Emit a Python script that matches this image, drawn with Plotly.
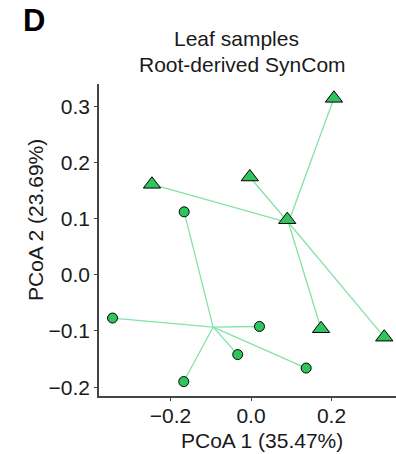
import plotly.graph_objects as go

# PCoA coordinates of leaf samples (two groups) and their group centroids
circle_x = [-0.166, -0.344, -0.167, 0.021, -0.033, 0.137]
circle_y = [0.112, -0.077, -0.190, -0.092, -0.142, -0.166]
circle_centroid = (-0.094, -0.093)

tri_x = [0.206, -0.003, -0.246, 0.090, 0.174, 0.331]
tri_y = [0.314, 0.174, 0.161, 0.098, -0.096, -0.111]
tri_centroid = (0.093, 0.093)

x_ticks = [-0.2, 0.0, 0.2]
y_ticks = [-0.2, -0.1, 0.0, 0.1, 0.2, 0.3]

title_lines = ["Leaf samples", "Root-derived SynCom"]
x_title = "PCoA 1 (35.47%)"
y_title = "PCoA 2 (23.69%)"
panel_label = "D"

FILL = "#2fc45e"
SPIDER = "#84e3a4"
FONT = "Liberation Sans, Arial, sans-serif"

W, H = 396, 454
L, R, T, B = 99, 0, 84, 58


def spider(cx, cy, xs, ys):
    sx, sy = [], []
    for x, y in zip(xs, ys):
        sx += [cx, x, None]
        sy += [cy, y, None]
    return sx, sy


fig = go.Figure()

for (cx, cy), xs, ys in [(circle_centroid, circle_x, circle_y),
                         (tri_centroid, tri_x, tri_y)]:
    sx, sy = spider(cx, cy, xs, ys)
    fig.add_trace(go.Scatter(x=sx, y=sy, mode="lines",
                             line=dict(color=SPIDER, width=1.3),
                             hoverinfo="skip", showlegend=False))

fig.add_trace(go.Scatter(x=circle_x, y=circle_y, mode="markers",
                         marker=dict(symbol="circle", size=10, color=FILL,
                                     line=dict(color="black", width=1)),
                         showlegend=False))
fig.add_trace(go.Scatter(x=tri_x, y=tri_y, mode="markers",
                         marker=dict(symbol="triangle-up", size=15, color=FILL,
                                     line=dict(color="black", width=1)),
                         showlegend=False))

axis_common = dict(showgrid=False, zeroline=False, showline=True,
                   linecolor="#444444", linewidth=1.5,
                   ticks="outside", ticklen=3, tickwidth=1, tickcolor="#444444",
                   tickfont=dict(family=FONT, size=21, color="#1a1a1a"))

fig.update_xaxes(range=[-0.3776, 0.3602], tickvals=x_ticks,
                 tickformat=".1f", ticklabelstandoff=-3, **axis_common)
fig.update_yaxes(range=[-0.2157, 0.3395], tickvals=y_ticks,
                 tickformat=".1f", **axis_common)


def px_to_paper(px, py):
    return (px - L) / (W - L - R), (H - B - py) / (H - T - B)


annotations = []
for text, cx, cy in [(title_lines[0], 236.7, 38.0),
                     (title_lines[1], 242.0, 64.5),
                     (x_title, 262.0, 440.5)]:
    ax, ay = px_to_paper(cx, cy)
    annotations.append(dict(text=text, x=ax, y=ay, xref="paper", yref="paper",
                            xanchor="center", yanchor="middle", showarrow=False,
                            font=dict(family=FONT, size=21, color="#1a1a1a")))

ax, ay = px_to_paper(35.0, 220.0)
annotations.append(dict(text=y_title, x=ax, y=ay, xref="paper", yref="paper",
                        xanchor="center", yanchor="middle", showarrow=False,
                        textangle=-90,
                        font=dict(family=FONT, size=21, color="#1a1a1a")))

ax, ay = px_to_paper(34.0, 20.0)
annotations.append(dict(text="<b>%s</b>" % panel_label, x=ax, y=ay,
                        xref="paper", yref="paper",
                        xanchor="center", yanchor="middle", showarrow=False,
                        font=dict(family=FONT, size=31, color="black")))

fig.update_layout(width=W, height=H,
                  margin=dict(l=L, r=R, t=T, b=B, pad=0),
                  paper_bgcolor="white", plot_bgcolor="white",
                  annotations=annotations, showlegend=False)

fig.write_html("out.html", config={"displayModeBar": False})
